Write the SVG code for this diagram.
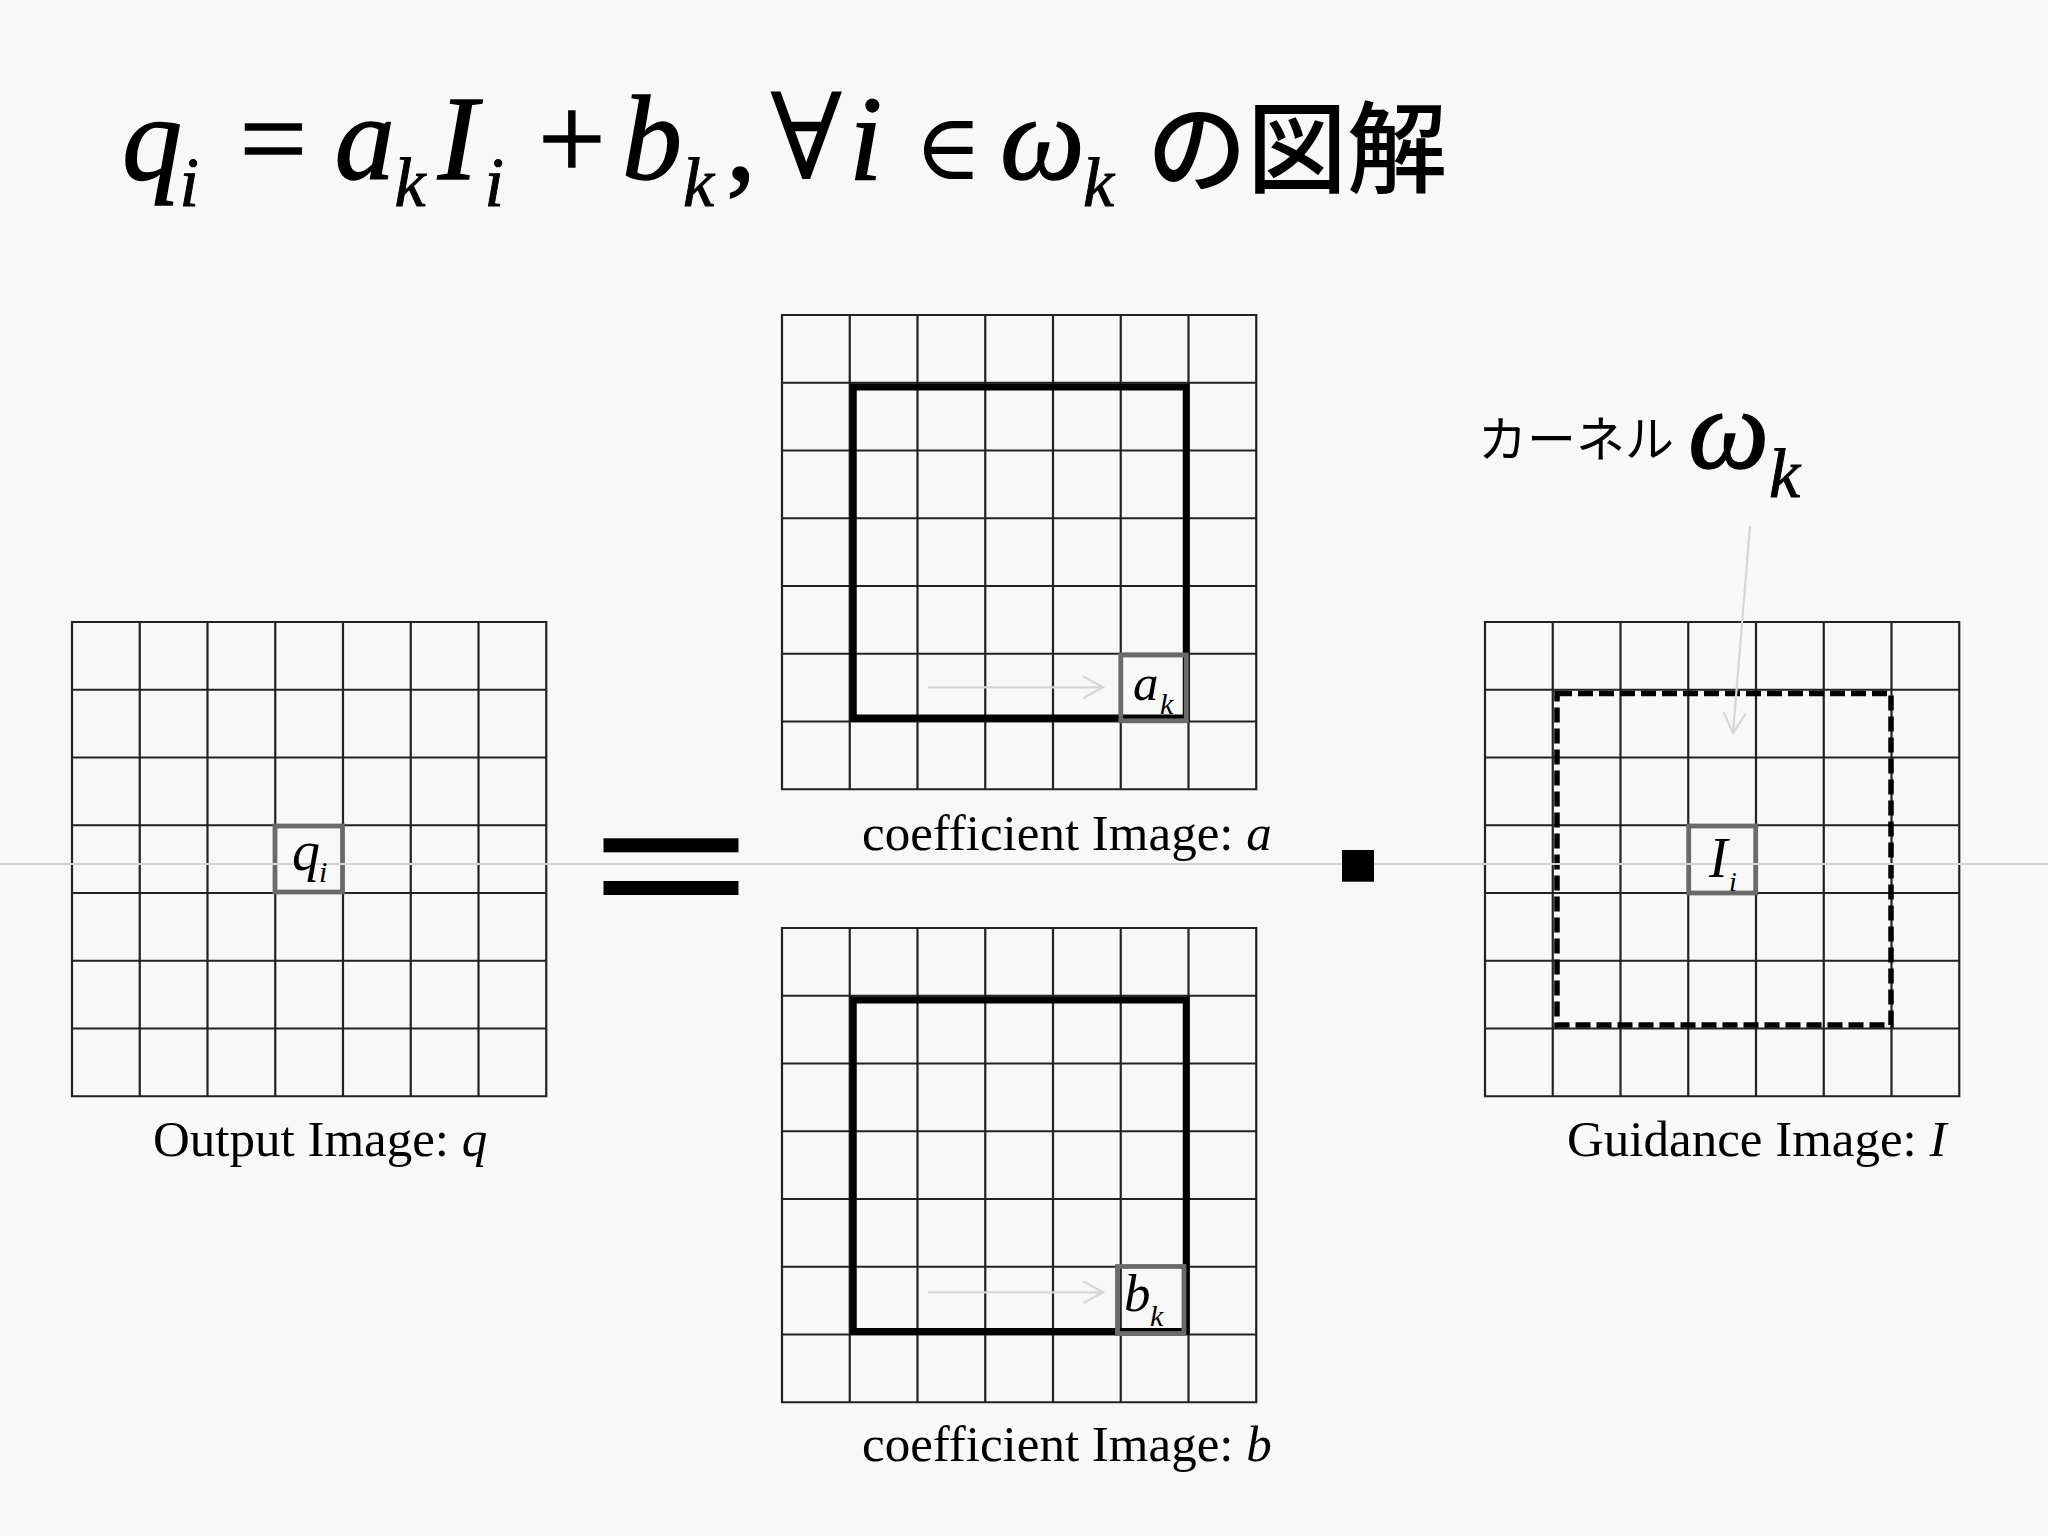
<svg xmlns="http://www.w3.org/2000/svg" xmlns:xlink="http://www.w3.org/1999/xlink" width="2048" height="1536" viewBox="0 0 2048 1536">
<style>
.grid{fill:none;stroke:#222;stroke-width:2.2}
.thick{fill:none;stroke:#000;stroke-width:7}
.hl{fill:none;stroke:#6a6a6a;stroke-width:4.8}
.dash{fill:none;stroke:#000;stroke-width:5.5;stroke-dasharray:15 6}
.conn{fill:none;stroke:#d6d6d6;stroke-width:2.2}
.lbl{font-family:"Liberation Serif","Times New Roman",serif;font-size:51px;fill:#000}
.it{font-style:italic}
.m{font-family:"Liberation Serif","Times New Roman","DejaVu Serif",serif;font-size:120px;fill:#000;stroke:#000;stroke-width:1.4}
.ms{font-family:"Liberation Serif","Times New Roman",serif;font-style:italic;font-size:70px;stroke-width:0.9}
.jp{font-family:"Noto Sans CJK JP","Noto Sans",sans-serif;fill:#000}
</style>
<defs>
<path id="gridpath" class="grid" d="M0 0H474.25V474.25H0Z M67.75 0V474.25 M135.5 0V474.25 M203.25 0V474.25 M271 0V474.25 M338.75 0V474.25 M406.5 0V474.25 M0 67.75H474.25 M0 135.5H474.25 M0 203.25H474.25 M0 271H474.25 M0 338.75H474.25 M0 406.5H474.25"/>
<marker id="chev" viewBox="-23 -13 26 26" refX="0" refY="0" markerWidth="26" markerHeight="26" markerUnits="userSpaceOnUse" orient="auto">
<path d="M-20 -11L0 0L-20 11" fill="none" stroke="#d6d6d6" stroke-width="2.2"/>
</marker>
</defs>
<rect x="0" y="0" width="2048" height="1536" fill="#f8f8f8"/>

<g id="title">
<text class="m it" x="122" y="179">q<tspan class="ms" x="179.5" y="206">i</tspan></text>
<text class="m" x="239.5" y="179">=</text>
<text class="m it" x="334.7" y="179">a<tspan class="ms" x="394.5" y="206">k</tspan><tspan x="437.7" y="179">I</tspan><tspan class="ms" x="484.6" y="206">i</tspan></text>
<text class="m" x="538" y="179">+</text>
<text class="m it" x="622" y="179">b<tspan class="ms" x="683" y="206">k</tspan></text>
<text class="m" x="726" y="179">,</text>
<text class="m" x="770" y="179" style="stroke-width:0">∀</text>
<text class="m it" x="849" y="179">i</text>
<text class="m" x="914" y="179" style="font-size:92px;stroke-width:0">∈</text>
<text class="m it" x="1000" y="179">ω<tspan class="ms" x="1083" y="206">k</tspan></text>
<text class="jp" x="1147" y="185" font-size="100" font-weight="500">の図解</text>
</g>

<g id="output-image">
<use xlink:href="#gridpath" href="#gridpath" x="72" y="622"/>
<rect class="hl" x="275" y="826" width="67.5" height="66"/>
</g>

<g id="coef-a">
<use xlink:href="#gridpath" href="#gridpath" x="782" y="315"/>
<rect class="thick" x="853.25" y="387" width="333" height="331"/>
<rect class="hl" x="1120.8" y="655" width="65.5" height="65.8"/>
</g>

<g id="coef-b">
<use xlink:href="#gridpath" href="#gridpath" x="782" y="928"/>
<rect class="thick" x="853.25" y="1000" width="333" height="331.5"/>
<rect class="hl" x="1117.5" y="1266.5" width="66.5" height="67"/>
</g>

<g id="guidance-image">
<use xlink:href="#gridpath" href="#gridpath" x="1485" y="622"/>
<rect class="dash" x="1557" y="693.5" width="334" height="331.5"/>
<rect class="hl" x="1688.7" y="826" width="67" height="67"/>
</g>

<line x1="0" y1="864" x2="2048" y2="864" stroke="#d4d4d4" stroke-width="2"/>

<g id="cell-labels">
<text class="lbl it" x="292" y="870" style="font-size:56px">q<tspan x="319" y="882" style="font-size:30px">i</tspan></text>
<text class="lbl it" x="1133" y="700" style="font-size:51px">a<tspan x="1160" y="714" style="font-size:30px">k</tspan></text>
<text class="lbl it" x="1124" y="1311" style="font-size:53px">b<tspan x="1150" y="1326" style="font-size:30px">k</tspan></text>
<text class="lbl it" x="1709" y="877" style="font-size:56px">I<tspan x="1729" y="891" style="font-size:28px">i</tspan></text>
</g>

<g id="operators">
<rect x="603.5" y="838.3" width="135" height="14" fill="#000"/>
<rect x="603.5" y="881" width="135" height="14" fill="#000"/>
<rect x="1342" y="850" width="32" height="31.7" fill="#000"/>
</g>

<g id="labels">
<text class="lbl" x="153" y="1156">Output Image: <tspan class="it">q</tspan></text>
<text class="lbl" x="862" y="850">coefficient Image: <tspan class="it">a</tspan></text>
<text class="lbl" x="862" y="1461">coefficient Image: <tspan class="it">b</tspan></text>
<text class="lbl" x="1567" y="1156">Guidance Image: <tspan class="it">I</tspan></text>
</g>

<g id="kernel-label">
<text class="jp" x="1478" y="457" font-size="49">カーネル</text>
<text class="m it" x="1688" y="468" style="font-size:115px">ω<tspan class="ms" x="1769" y="497">k</tspan></text>
</g>

<g id="connectors">
<path class="conn" d="M928 687.3H1103" marker-end="url(#chev)"/>
<path class="conn" d="M928 1292.3H1103" marker-end="url(#chev)"/>
<path class="conn" d="M1750 526L1733 733" marker-end="url(#chev)"/>
</g>
</svg>
